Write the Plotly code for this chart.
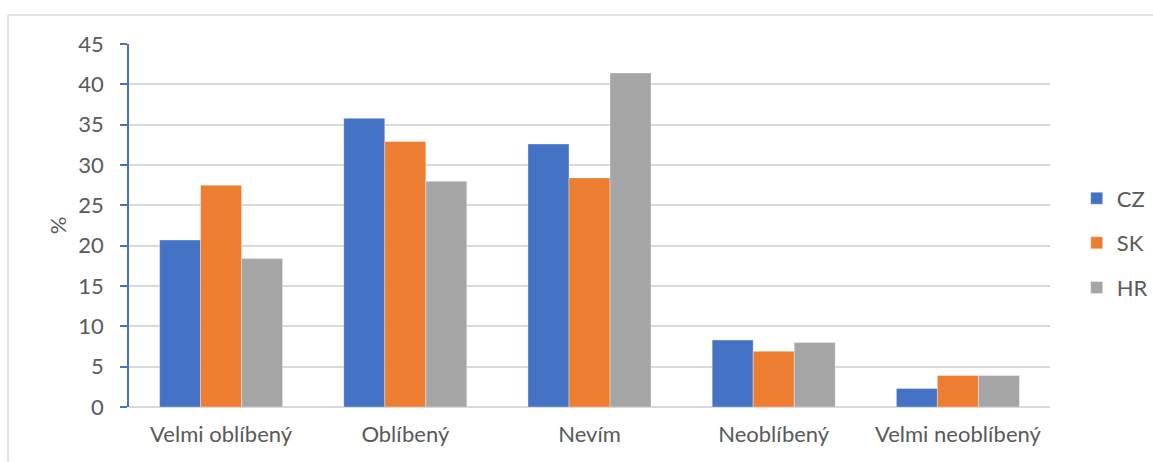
import plotly.graph_objects as go

# Survey answers by country (%)
categories = ["Velmi oblíbený", "Oblíbený", "Nevím", "Neoblíbený", "Velmi neoblíbený"]
cz = [20.7, 35.8, 32.6, 8.3, 2.3]
sk = [27.5, 32.9, 28.4, 6.9, 3.9]
hr = [18.4, 28.0, 41.4, 8.0, 3.9]

series = [("CZ", cz, "#4472C4"), ("SK", sk, "#ED7D31"), ("HR", hr, "#A5A5A5")]

FONT = "Lato"
TEXT = "#595959"
GRID = "#D9D9D9"
FS = 22

fig = go.Figure()
for name, vals, color in series:
    fig.add_trace(go.Bar(
        x=categories, y=vals, name=name, legendgroup=name,
        marker=dict(color=color, line=dict(width=0.6, color="rgba(255,255,255,0.6)")),
    ))

fig.update_layout(
    width=1153, height=462,
    margin=dict(l=129, r=103, t=44, b=55, autoexpand=False),
    paper_bgcolor="white", plot_bgcolor="white",
    barmode="group", bargap=0.332, bargroupgap=0,
    font=dict(family=FONT, size=FS, color=TEXT),
    showlegend=True,
    legend=dict(
        x=1.029, xanchor="left", y=0.452, yanchor="middle",
        font=dict(family=FONT, size=FS, color=TEXT),
        tracegroupgap=13, itemwidth=30, bgcolor="rgba(0,0,0,0)",
    ),
    xaxis=dict(
        showgrid=False, showline=False, ticks="",
        ticklabelstandoff=12,
        tickfont=dict(family=FONT, size=FS, color=TEXT),
    ),
    yaxis=dict(
        range=[0, 45], dtick=5, tick0=0,
        showgrid=True, gridcolor=GRID, gridwidth=1.5,
        zeroline=True, zerolinecolor=GRID, zerolinewidth=1.5,
        showline=True, linecolor="#4472C4", linewidth=1.5,
        ticks="outside", ticklen=7, tickcolor="#4472C4", tickwidth=1.5,
        ticklabelstandoff=12,
        tickfont=dict(family=FONT, size=FS, color=TEXT),
        title=dict(text="%", font=dict(family=FONT, size=FS, color=TEXT), standoff=6),
    ),
    shapes=[
        # chart frame (left and top edges)
        dict(type="line", xref="paper", yref="paper", x0=-0.1314, x1=-0.1314,
             y0=-0.2, y1=1.0799, line=dict(color=GRID, width=1.5)),
        dict(type="line", xref="paper", yref="paper", x0=-0.1314, x1=1.2,
             y0=1.0799, y1=1.0799, line=dict(color=GRID, width=1.5)),
    ],
)

fig.write_html("out.html")
